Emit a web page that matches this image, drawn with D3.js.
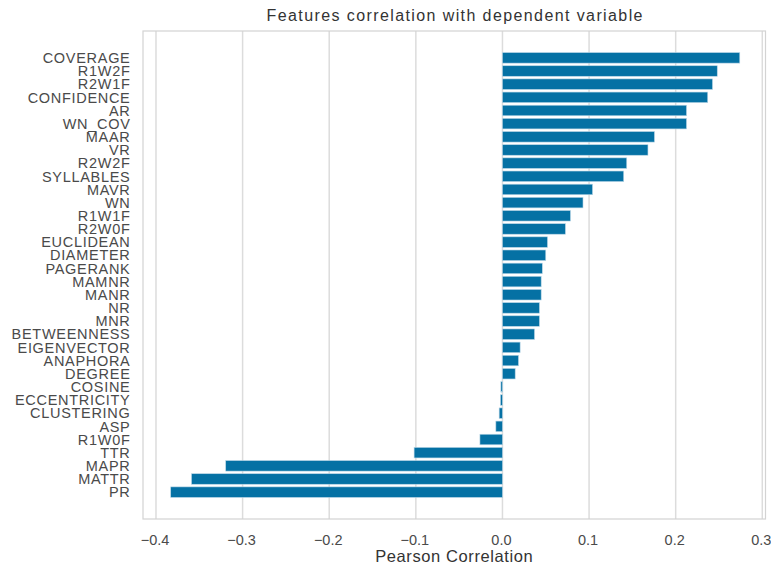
<!DOCTYPE html>
<html>
<head>
<meta charset="utf-8">
<script src="https://cdn.jsdelivr.net/npm/d3@7"></script>
<style>
  body { margin: 0; background: #fff; }
  text { font-family: "Liberation Sans", Arial, sans-serif; }
</style>
</head>
<body>
<svg id="chart" width="771" height="569"></svg>
<script>
// features, top to bottom
var features = ["COVERAGE", "R1W2F", "R2W1F", "CONFIDENCE", "AR", "WN_COV", "MAAR", "VR",
    "R2W2F", "SYLLABLES", "MAVR", "WN", "R1W1F", "R2W0F", "EUCLIDEAN", "DIAMETER",
    "PAGERANK", "MAMNR", "MANR", "NR", "MNR", "BETWEENNESS", "EIGENVECTOR", "ANAPHORA",
    "DEGREE", "COSINE", "ECCENTRICITY", "CLUSTERING", "ASP", "R1W0F", "TTR", "MAPR",
    "MATTR", "PR"];
var correlations = [0.274, 0.248, 0.2425, 0.237, 0.2125, 0.2125, 0.1755, 0.168,
    0.1435, 0.140, 0.104, 0.093, 0.0785, 0.0727, 0.052, 0.050,
    0.046, 0.0447, 0.0447, 0.0427, 0.0427, 0.037, 0.0204, 0.0185,
    0.0147, -0.0018, -0.0023, -0.0038, -0.0076, -0.026, -0.102, -0.3195,
    -0.359, -0.383];
var xTicks = [-0.4, -0.3, -0.2, -0.1, 0.0, 0.1, 0.2, 0.3];

var svg = d3.select("#chart");
var plotL = 143, plotR = 765.5, plotT = 31, plotB = 519;

var x = d3.scaleLinear().domain([-0.415, 0.3037]).range([plotL, plotR]);
var n = features.length;
// matplotlib-style margins around bar positions
var y = d3.scaleLinear().domain([-2.04, n - 1 + 2.04]).range([plotT, plotB]);
var barH = (y(0.8) - y(0));

// gridlines
svg.append("g")
    .selectAll("line")
    .data(xTicks)
    .join("line")
    .attr("x1", function(d) { return x(d); })
    .attr("x2", function(d) { return x(d); })
    .attr("y1", plotT)
    .attr("y2", plotB)
    .attr("stroke", "#dcdcdc")
    .attr("stroke-width", 1.5);

// bars
svg.append("g")
    .selectAll("rect")
    .data(correlations)
    .join("rect")
    .attr("x", function(d) { return x(Math.min(0, d)); })
    .attr("width", function(d) { return Math.abs(x(d) - x(0)); })
    .attr("y", function(d, i) { return y(i) - barH / 2; })
    .attr("height", barH)
    .attr("fill", "#0571a4")
    .attr("stroke", "#b9d6e6")
    .attr("stroke-width", 0.6);

// frame
svg.append("rect")
    .attr("x", plotL)
    .attr("y", plotT)
    .attr("width", plotR - plotL)
    .attr("height", plotB - plotT)
    .attr("fill", "none")
    .attr("stroke", "#d3d3d3")
    .attr("stroke-width", 1.2);

// x axis tick labels
svg.append("g")
    .selectAll("text")
    .data(xTicks)
    .join("text")
    .attr("x", function(d) { return x(d) - 1; })
    .attr("y", plotB + 26)
    .attr("text-anchor", "middle")
    .attr("font-size", 14.5)
    .attr("fill", "#4a4a4a")
    .text(function(d) { return d3.format(".1f")(d).replace("-", "\u2212 "); });

// y labels
svg.append("g")
    .selectAll("text")
    .data(features)
    .join("text")
    .attr("x", plotL - 12.5)
    .attr("y", function(d, i) { return y(i); })
    .attr("dy", "0.36em")
    .attr("text-anchor", "end")
    .attr("font-size", 14.5)
    .attr("letter-spacing", 0.7)
    .attr("fill", "#4a4a4a")
    .text(function(d) { return d; });

// title and axis label
svg.append("text")
    .attr("x", (plotL + plotR) / 2 + 1)
    .attr("y", 20.5)
    .attr("text-anchor", "middle")
    .attr("font-size", 16)
    .attr("letter-spacing", 1.4)
    .attr("fill", "#333")
    .text("Features correlation with dependent variable");

svg.append("text")
    .attr("x", (plotL + plotR) / 2)
    .attr("y", 562)
    .attr("text-anchor", "middle")
    .attr("font-size", 16.5)
    .attr("letter-spacing", 0.6)
    .attr("fill", "#333")
    .text("Pearson Correlation");
</script>
</body>
</html>
